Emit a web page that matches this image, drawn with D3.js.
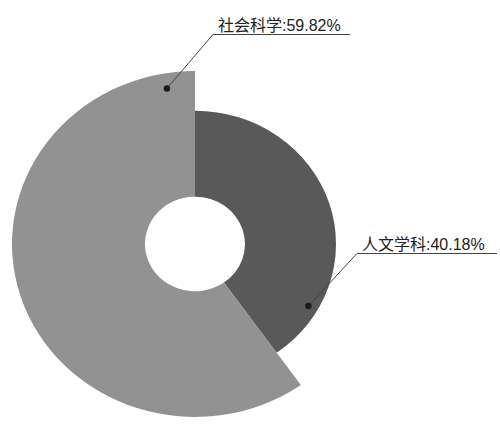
<!DOCTYPE html>
<html>
<head>
<meta charset="utf-8">
<script src="https://cdn.jsdelivr.net/npm/d3@7"></script>
<style>
  html, body { margin: 0; padding: 0; background: #fff; }
  svg { display: block; }
</style>
</head>
<body>
<div id="chart"></div>
<script>
// Данные
const categories = ['人文学科', '社会科学'];
const values = [40.18, 59.82];
const labels = ['人文学科:40.18%', '社会科学:59.82%'];

// Оформление
const colors = ['#595959', '#929292'];
const outerRadii = [141, 183];
const innerRadius = 50;
const squash = 0.945;            // картинка слегка сжата по вертикали
const cx = 195, cy = 244;
// где стоит точка выноски: доля угла сектора и радиус
const dotPos = [{t: 0.83, r: 131}, {t: 0.955, r: 167}];
// положение подписи (начало подчёркивания) и длина линии
const labelPos = [{x: 357, y: 253.5, w: 140}, {x: 213, y: 34.5, w: 137}];

const width = 500, height = 434;

const svg = d3.select('#chart').append('svg')
    .attr('width', width)
    .attr('height', height);

const pie = d3.pie().sort(null).value(d => d)(values);

const arc = d3.arc()
    .innerRadius(innerRadius)
    .outerRadius((d, i) => outerRadii[d.index]);

const g = svg.append('g')
    .attr('transform', `translate(${cx},${cy}) scale(1,${squash})`);

g.selectAll('path')
    .data(pie)
    .enter()
    .append('path')
    .attr('d', arc)
    .attr('fill', d => colors[d.index]);

// Точки выносок
const dots = pie.map(d => {
    const p = dotPos[d.index];
    const a = d.startAngle + (d.endAngle - d.startAngle) * p.t;
    const [x, y] = d3.pointRadial(a, p.r);
    return {x: cx + x, y: cy + y * squash, i: d.index};
});

svg.selectAll('.leader')
    .data(dots)
    .enter()
    .append('polyline')
    .attr('class', 'leader')
    .attr('points', d => {
        const l = labelPos[d.i];
        return `${d.x},${d.y} ${l.x},${l.y} ${l.x + l.w},${l.y}`;
    })
    .attr('fill', 'none')
    .attr('stroke', '#444')
    .attr('stroke-width', 1);

svg.selectAll('.dot')
    .data(dots)
    .enter()
    .append('circle')
    .attr('class', 'dot')
    .attr('cx', d => d.x)
    .attr('cy', d => d.y)
    .attr('r', 3.2)
    .attr('fill', '#1a1a1a');

svg.selectAll('.label')
    .data(labels)
    .enter()
    .append('text')
    .attr('class', 'label')
    .attr('x', (d, i) => labelPos[i].x + 5)
    .attr('y', (d, i) => labelPos[i].y - 3.5)
    .text(d => d)
    .style('font-family', '"Liberation Sans", "Noto Sans CJK SC", sans-serif')
    .style('font-size', '16px')
    .style('fill', '#222');
</script>
</body>
</html>
